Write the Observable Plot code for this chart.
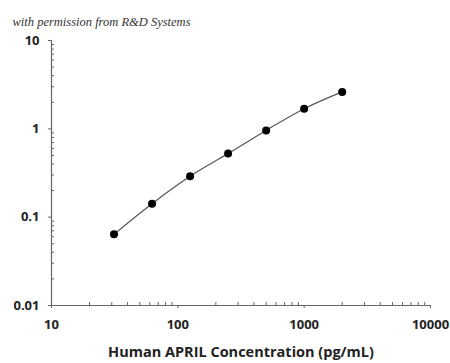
<!DOCTYPE html>
<html>
<head>
<meta charset="utf-8">
<script src="https://cdn.jsdelivr.net/npm/d3@7"></script>
<script src="https://cdn.jsdelivr.net/npm/@observablehq/plot@0.6"></script>
<style>
  body { margin: 0; background: #fff; }
</style>
</head>
<body>
<div id="chart"></div>
<script>
// Data
const concentration = [31.25, 62.5, 125, 250, 500, 1000, 2000];
const od = [0.064, 0.142, 0.29, 0.525, 0.96, 1.69, 2.62];
const xMajor = [10, 100, 1000, 10000];
const yMajor = [0.01, 0.1, 1, 10];
const yLabels = ["0.01", "0.1", "1", "10"];
const xMinor = [20, 30, 40, 50, 60, 70, 80, 90, 200, 300, 400, 500, 600, 700, 800, 900, 2000, 3000, 4000, 5000, 6000, 7000, 8000, 9000];
const yMinor = [0.02, 0.03, 0.04, 0.05, 0.06, 0.07, 0.08, 0.09, 0.2, 0.3, 0.4, 0.5, 0.6, 0.7, 0.8, 0.9, 2, 3, 4, 5, 6, 7, 8, 9];
const xTitle = "Human APRIL Concentration (pg/mL)";
const credit = "with permission from R&D Systems";

const points = concentration.map((c, i) => ({c, od: od[i]}));
const font = "'Open Sans', sans-serif";
const axisColor = "#666";

const chart = Plot.plot({
  width: 450,
  height: 363,
  marginLeft: 51,
  marginRight: 20,
  marginTop: 40,
  marginBottom: 58,
  style: {fontFamily: font, background: "#fff"},
  x: {type: "log", domain: [10, 10000]},
  y: {type: "log", domain: [0.01, 10]},
  marks: [
    // axis lines
    Plot.ruleY([0.01], {stroke: axisColor, strokeWidth: 1.2}),
    Plot.ruleX([10], {stroke: axisColor, strokeWidth: 1.2}),
    // minor inward ticks
    Plot.ruleX(xMinor, {x: d => d, y1: 0.01, y2: 0.01, insetBottom: 3, stroke: axisColor}),
    Plot.ruleY(yMinor, {y: d => d, x1: 10, x2: 10, insetRight: -3, stroke: axisColor}),
    // major axes
    Plot.axisX({ticks: xMajor, tickSize: 3, tickPadding: 11, tickFormat: d => String(d),
      fontSize: 13, fontWeight: "bold", fill: "#222", stroke: axisColor, label: null}),
    Plot.axisY({ticks: yMajor, tickSize: 3, tickPadding: 9, tickFormat: (d, i) => yLabels[yMajor.indexOf(d)],
      fontSize: 13, fontWeight: "bold", fill: "#222", stroke: axisColor, label: null}),
    // fitted curve
    Plot.line(points, {x: "c", y: "od", curve: "monotone-x", stroke: "#555", strokeWidth: 1.2}),
    Plot.dot(points, {x: "c", y: "od", r: 4, fill: "#000"}),
    // x axis title
    Plot.text([xTitle], {frameAnchor: "bottom", dy: 51, fontSize: 14.5, fontWeight: "bold", fill: "#222"}),
    // credit
    Plot.text([credit], {frameAnchor: "top-left", dx: -39, dy: -23, textAnchor: "start",
      fontSize: 12.5, fontStyle: "italic", fontFamily: "'Liberation Serif', serif", fill: "#333"})
  ]
});
document.getElementById("chart").appendChild(chart);
</script>
</body>
</html>
